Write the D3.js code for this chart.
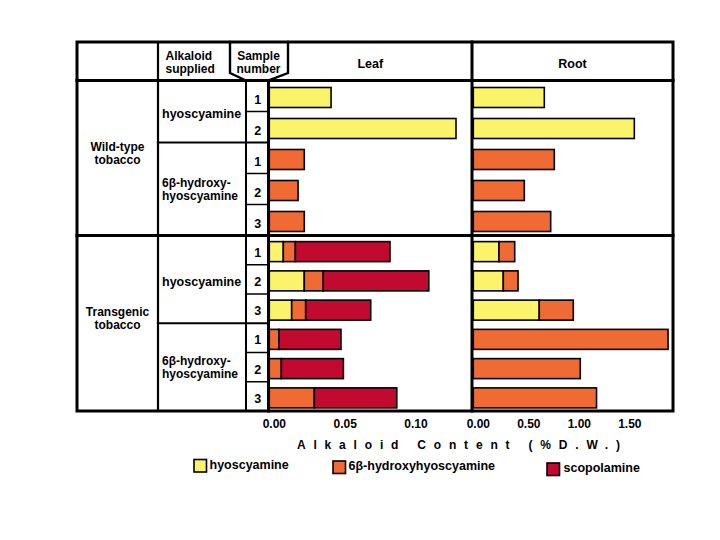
<!DOCTYPE html>
<html><head><meta charset="utf-8">
<script src="https://cdn.jsdelivr.net/npm/d3@7"></script>
<style>
body{margin:0;background:#fff}
svg{display:block}
text{font-family:"Liberation Sans",Arial,Helvetica,sans-serif;font-weight:bold;fill:#000}
</style>
</head><body><svg id="c" width="720" height="540"></svg>
<script>
// ---------------- data ----------------
const sectionLabels = [["Wild-type","tobacco"],["Transgenic","tobacco"]];
const suppliedLabels = [["hyoscyamine"],["6β-hydroxy-","hyoscyamine"]];
const rowSection  = [0,0,0,0,0,1,1,1,1,1,1];
const rowSupplied = [0,0,1,1,1,0,0,0,1,1,1];
const rowSample   = ["1","2","1","2","3","1","2","3","1","2","3"];
const seriesNames  = ["hyoscyamine","6β-hydroxyhyoscyamine","scopolamine"];
const seriesColors = ["#fbf36a","#ef6b33","#c20a30"];
const leafHyoscyamine = [0.0436,0.1318,0,0,0,0.0099,0.0247,0.0158,0,0,0];
const leafHydroxy     = [0,0,0.0247,0.0203,0.0247,0.0085,0.0134,0.0099,0.0068,0.0085,0.0318];
const leafScopolamine = [0,0,0,0,0,0.0668,0.0745,0.0459,0.0438,0.0438,0.0582];
const rootHyoscyamine = [0.703,1.594,0,0,0,0.254,0.297,0.653,0,0,0];
const rootHydroxy     = [0,0,0.802,0.505,0.766,0.156,0.146,0.337,1.928,1.059,1.22];
const rootScopolamine = [0,0,0,0,0,0,0,0,0,0,0];
const leafTicks = [0,0.05,0.10];
const rootTicks = [0,0.5,1.0,1.5];
const headerTexts = {supplied:["Alkaloid","supplied"], sample:["Sample","number"], leaf:"Leaf", root:"Root"};
const axisTitle = "Alkaloid Content (%D.W.)";

// ---------------- layout ----------------
const svg = d3.select("#c");
const L=77, R=673, T=42, B=411, HB=80.5, SPLIT=235.5;
const C1=158, C2=246, C3=268.5, DIV=472;
const FS = "12.5px", FS2 = "12px", LH = 13;
const rows = d3.range(rowSample.length);

const yWT = d3.scaleBand().domain(rows.filter(i=>rowSection[i]===0)).range([HB,SPLIT]);
const yTG = d3.scaleBand().domain(rows.filter(i=>rowSection[i]===1)).range([SPLIT,B]);
const yS = i => rowSection[i]===0 ? yWT : yTG;
const yTop = i => yS(i)(i);
const yBw = i => yS(i).bandwidth();
const yMid = i => yTop(i) + yBw(i)/2;

const xLeaf = d3.scaleLinear().domain([0, 0.1431]).range([269.3, DIV]);
const xRoot = d3.scaleLinear().domain([0, 1.977]).range([473.3, R]);

const keys = [0,1,2];
function stackData(a,b,c){ return rows.map(i=>({i, 0:a[i], 1:b[i], 2:c[i]})); }
const stack = d3.stack().keys(keys);
const BH = 20;

function drawBars(data, x){
  const layers = stack(data);
  const g = svg.append("g");
  layers.forEach((layer,k)=>{
    g.selectAll(null).data(layer.filter(d=>d[1]-d[0]>0)).join("rect")
      .attr("x", d=>x(d[0]))
      .attr("width", d=>x(d[1])-x(d[0]))
      .attr("y", d=>yMid(d.data.i)-BH/2+1.5)
      .attr("height", BH)
      .attr("fill", seriesColors[k])
      .attr("stroke","#000").attr("stroke-width",1.6);
  });
}
drawBars(stackData(leafHyoscyamine,leafHydroxy,leafScopolamine), xLeaf);
drawBars(stackData(rootHyoscyamine,rootHydroxy,rootScopolamine), xRoot);

// ---------------- table lines ----------------
const lines = svg.append("g").attr("stroke","#000").attr("fill","none").attr("stroke-linecap","square");
function ln(x1,y1,x2,y2,w){ lines.append("line").attr("x1",x1).attr("y1",y1).attr("x2",x2).attr("y2",y2).attr("stroke-width",w); }
lines.append("rect").attr("x",L).attr("y",T).attr("width",R-L).attr("height",B-T).attr("stroke-width",3);
ln(L,HB,R,HB,3);
ln(L,SPLIT,R,SPLIT,3);
ln(C1,T,C1,B,2.2);
ln(C2,HB,C2,B,2);
ln(C3,HB,C3,B,3);
ln(DIV,T,DIV,B,3);
lines.append("path").attr("d",`M230,${T}V73L${C2},${HB}M288,${T}V73L${C3},${HB}`).attr("stroke-width",2.4).attr("stroke-linejoin","miter");

rows.slice(1).forEach(i=>{
  if (rowSection[i]!==rowSection[i-1]) return;
  const y = yTop(i);
  if (rowSupplied[i]!==rowSupplied[i-1]) ln(C1,y,C3,y,2.2);
  else ln(C2,y,C3,y,1.5);
});

// ---------------- texts ----------------
const tg = svg.append("g").style("font-size",FS);
tg.selectAll(null).data(headerTexts.supplied).join("text")
  .attr("x",165.5).attr("y",(d,j)=>60+j*LH).style("font-size",FS2).text(d=>d);
tg.selectAll(null).data(headerTexts.sample).join("text")
  .attr("x",258.5).attr("y",(d,j)=>59.5+j*LH).style("font-size",FS2).attr("text-anchor","middle").text(d=>d);
tg.append("text").attr("x",(C3+DIV)/2).attr("y",68).attr("text-anchor","middle").text(headerTexts.leaf);
tg.append("text").attr("x",(DIV+R)/2).attr("y",68).attr("text-anchor","middle").text(headerTexts.root);

sectionLabels.forEach((lab,s)=>{
  const rs = rows.filter(i=>rowSection[i]===s);
  const c = (yTop(rs[0]) + yTop(rs[rs.length-1]) + yBw(rs[rs.length-1]))/2;
  lab.forEach((t,j)=>tg.append("text").attr("x",(L+C1)/2).attr("y",c-7.5+j*LH)
    .style("font-size",FS2).attr("text-anchor","middle").text(t));
});
const groups = d3.groups(rows, i=>rowSection[i]+"-"+rowSupplied[i]);
groups.forEach(([k,rs])=>{
  const c = (yTop(rs[0]) + yTop(rs[rs.length-1]) + yBw(rs[rs.length-1]))/2;
  const lab = suppliedLabels[rowSupplied[rs[0]]];
  lab.forEach((t,j)=>tg.append("text").attr("x",162).attr("y", lab.length===1 ? c+6.4 : c-2+j*LH)
    .style("font-size", lab.length===1 ? FS : FS2).text(t));
});
tg.selectAll(null).data(rows).join("text")
  .attr("x",(C2+C3)/2+0.5).attr("y",i=>yMid(i)+(rowSection[i]===0?7.5:6.5))
  .attr("text-anchor","middle").text(i=>rowSample[i]);

// ---------------- axes ----------------
function drawAxis(x, ticks){
  const g = svg.append("g").attr("transform",`translate(0,${B})`)
    .call(d3.axisBottom(x).tickValues(ticks).tickFormat(d3.format(".2f")).tickSize(0).tickPadding(8.5));
  g.select(".domain").remove();
  g.attr("font-family",null).attr("font-size",null);
  g.selectAll("text").style("font-size","12px").attr("dx",4.5).attr("fill","#000");
}
drawAxis(xLeaf, leafTicks);
drawAxis(xRoot, rootTicks);

svg.append("text").attr("x",297).attr("y",449).style("font-size","12px")
  .attr("textLength",323).attr("lengthAdjust","spacing").text(axisTitle);

// ---------------- legend ----------------
const legendPos = [{x:194,y:459.5,tx:209.5,ty:468.5},{x:333,y:461,tx:348.5,ty:470},{x:547,y:463,tx:563.5,ty:472}];
const lg = svg.append("g");
seriesNames.forEach((n,k)=>{
  const p = legendPos[k];
  lg.append("rect").attr("x",p.x).attr("y",p.y).attr("width",12.5).attr("height",12.5)
    .attr("fill",seriesColors[k]).attr("stroke","#000").attr("stroke-width",1.6);
  lg.append("text").attr("x",p.tx).attr("y",p.ty).style("font-size",FS).text(n);
});
</script>
</body></html>
